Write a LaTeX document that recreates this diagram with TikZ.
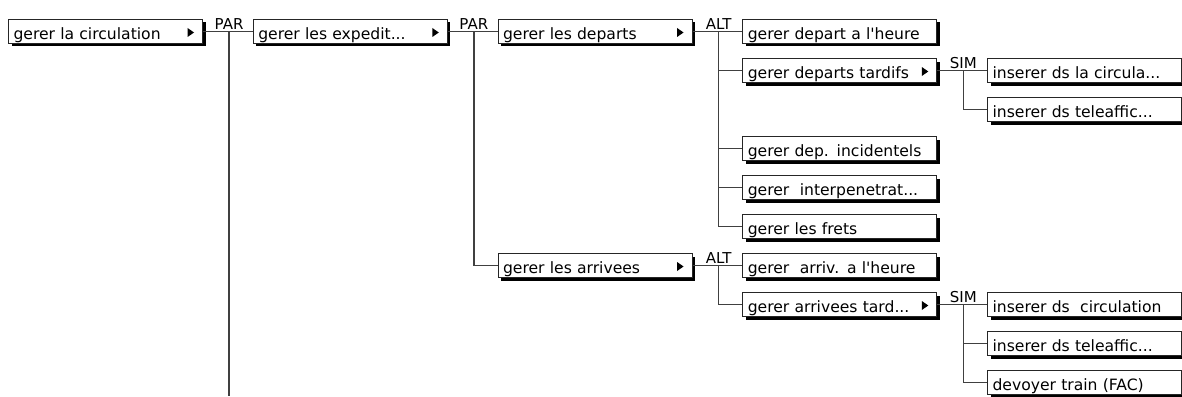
\documentclass[tikz,border=0pt]{standalone}
\usepackage{fontspec}
\newfontfamily\uifont{DejaVu Sans}
\usetikzlibrary{positioning,shadows}
\tikzset{
  task/.style={draw=black!85, line width=1.1pt, fill=white, anchor=west,
    minimum width=194pt, minimum height=24pt, text width=184pt, align=left,
    inner xsep=5pt, inner ysep=0pt, text height=16.5pt, text depth=0pt,
    font=\uifont\fontsize{15.6}{17}\selectfont,
    drop shadow={shadow xshift=3pt, shadow yshift=-3pt, fill=black, opacity=1}},
  more/.style={task, path picture={
    \fill[black] ([xshift=-15pt,yshift=3.5pt]path picture bounding box.east)
      -- ([xshift=-15pt,yshift=-5.5pt]path picture bounding box.east)
      -- ([xshift=-8.5pt,yshift=-1pt]path picture bounding box.east) -- cycle;}},
  link/.style={draw=black!75, line width=1.5pt},
  oplabel/.style={anchor=south, inner sep=1.5pt, font=\uifont\fontsize{15}{16}\selectfont}
}
\begin{document}
\begin{tikzpicture}[x=1pt,y=1pt]

  \newcommand\X{244.75}
  \newcommand\Y{39}

  \useasboundingbox (0,0) rectangle (1182,-396);

  %% column 0 and 1
  \node[more] (circ) at (8+0*\X, -31.5-0*\Y) {gerer la circulation};
  \node[more] (exped) at (8+1*\X, -31.5-0*\Y) {gerer les expedit...};

  %% column 2
  \node[more] (deps) at (8+2*\X, -31.5-0*\Y) {gerer les departs};
  \node[more] (arrs) at (8+2*\X, -31.5-6*\Y) {gerer les arrivees};

  %% column 3
  \node[task] (depheure) at (8+3*\X, -31.5-0*\Y) {gerer depart a l'heure};
  \node[more] (deptard) at (8+3*\X, -31.5-1*\Y) {gerer departs tardifs};
  \node[task] (depinc) at (8+3*\X, -31.5-3*\Y) {gerer dep. incidentels};
  \node[task] (interp) at (8+3*\X, -31.5-4*\Y) {gerer\ \ interpenetrat...};
  \node[task] (frets) at (8+3*\X, -31.5-5*\Y) {gerer les frets};
  \node[task] (arrheure) at (8+3*\X, -31.5-6*\Y) {gerer\ \ arriv. a l'heure};
  \node[more] (arrtard) at (8+3*\X, -31.5-7*\Y) {gerer arrivees tard...};

  %% column 4
  \node[task] (inscircA) at (8+4*\X, -31.5-1*\Y) {inserer ds la circula...};
  \node[task] (instelA) at (8+4*\X, -31.5-2*\Y) {inserer ds teleaffic...};
  \node[task] (inscircB) at (8+4*\X, -31.5-7*\Y) {inserer ds\ \ circulation};
  \node[task] (instelB) at (8+4*\X, -31.5-8*\Y) {inserer ds teleaffic...};
  \node[task] (devoy) at (8+4*\X, -31.5-9*\Y) {devoyer train (FAC)};

  %% junctions
  \coordinate[right=26pt of circ] (par0);
  \coordinate[right=26pt of exped] (par1);
  \coordinate[right=26pt of deps] (alt0);
  \coordinate[right=26pt of arrs] (alt1);
  \coordinate[right=26pt of deptard] (sim0);
  \coordinate[right=26pt of arrtard] (sim1);
  \coordinate (bot) at (0,-396);

  \node[oplabel] (parlabA) at (par0) {PAR};
  \node[oplabel] (parlabB) at (par1) {PAR};
  \node[oplabel] (altlabA) at (alt0) {ALT};
  \node[oplabel] (altlabB) at (alt1) {ALT};
  \node[oplabel] (simlabA) at (sim0) {SIM};
  \node[oplabel] (simlabB) at (sim1) {SIM};

  \draw[link] (circ) -- (exped); %% PAR
  \draw[link] (par0) -- (par0 |- bot);

  \draw[link] (exped) -- (deps); %% PAR
  \draw[link] (par1) |- (arrs);

  \draw[link] (deps) -- (depheure); %% ALT
  \draw[link] (alt0) |- (deptard);
  \draw[link] (alt0) |- (depinc);
  \draw[link] (alt0) |- (interp);
  \draw[link] (alt0) |- (frets);

  \draw[link] (deptard) -- (inscircA); %% SIM
  \draw[link] (sim0) |- (instelA);

  \draw[link] (arrs) -- (arrheure); %% ALT
  \draw[link] (alt1) |- (arrtard);

  \draw[link] (arrtard) -- (inscircB); %% SIM
  \draw[link] (sim1) |- (instelB);
  \draw[link] (sim1) |- (devoy);
\end{tikzpicture}
\end{document}
